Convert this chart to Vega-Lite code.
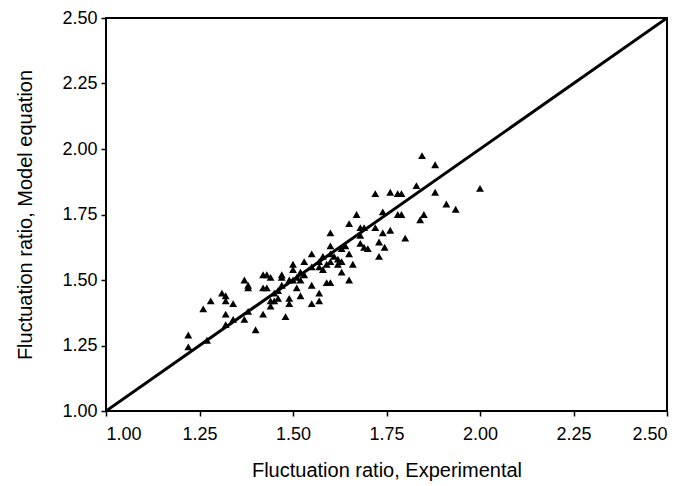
{
  "$schema": "https://vega.github.io/schema/vega-lite/v6.json",
  "autosize": "none",
  "width": 561,
  "height": 393,
  "padding": {"left": 106, "top": 18, "right": 13, "bottom": 75},
  "background": "white",
  "config": {
    "view": {"stroke": "black", "strokeWidth": 2},
    "font": "Liberation Sans",
    "axis": {
      "grid": false,
      "domain": false,
      "tickColor": "black",
      "tickSize": 5,
      "tickWidth": 1.5,
      "labelFont": "Liberation Sans",
      "labelFontSize": 18,
      "labelColor": "black",
      "titleFont": "Liberation Sans",
      "titleFontSize": 20,
      "titleFontWeight": "normal",
      "titleColor": "black"
    }
  },
  "datasets": {
    "points": [
      {"x": 1.22, "y": 1.29}, {"x": 1.22, "y": 1.245}, {"x": 1.26, "y": 1.39}, {"x": 1.28, "y": 1.42},
      {"x": 1.27, "y": 1.27}, {"x": 1.31, "y": 1.45}, {"x": 1.32, "y": 1.44}, {"x": 1.32, "y": 1.42},
      {"x": 1.32, "y": 1.37}, {"x": 1.32, "y": 1.33}, {"x": 1.34, "y": 1.41}, {"x": 1.34, "y": 1.35},
      {"x": 1.37, "y": 1.50}, {"x": 1.38, "y": 1.48}, {"x": 1.38, "y": 1.47}, {"x": 1.37, "y": 1.35},
      {"x": 1.38, "y": 1.38}, {"x": 1.40, "y": 1.31}, {"x": 1.42, "y": 1.52}, {"x": 1.42, "y": 1.47},
      {"x": 1.42, "y": 1.37}, {"x": 1.43, "y": 1.52}, {"x": 1.44, "y": 1.40}, {"x": 1.44, "y": 1.51},
      {"x": 1.45, "y": 1.45}, {"x": 1.45, "y": 1.42}, {"x": 1.46, "y": 1.43}, {"x": 1.47, "y": 1.52},
      {"x": 1.47, "y": 1.51}, {"x": 1.48, "y": 1.36}, {"x": 1.49, "y": 1.50}, {"x": 1.49, "y": 1.43},
      {"x": 1.49, "y": 1.41}, {"x": 1.50, "y": 1.56}, {"x": 1.50, "y": 1.54}, {"x": 1.51, "y": 1.47},
      {"x": 1.52, "y": 1.44}, {"x": 1.52, "y": 1.50}, {"x": 1.53, "y": 1.57}, {"x": 1.53, "y": 1.52},
      {"x": 1.55, "y": 1.60}, {"x": 1.55, "y": 1.48}, {"x": 1.55, "y": 1.41}, {"x": 1.57, "y": 1.45},
      {"x": 1.57, "y": 1.42}, {"x": 1.57, "y": 1.57}, {"x": 1.58, "y": 1.54}, {"x": 1.58, "y": 1.59},
      {"x": 1.59, "y": 1.49}, {"x": 1.60, "y": 1.68}, {"x": 1.60, "y": 1.63}, {"x": 1.60, "y": 1.49},
      {"x": 1.60, "y": 1.57}, {"x": 1.61, "y": 1.59}, {"x": 1.62, "y": 1.56}, {"x": 1.63, "y": 1.53},
      {"x": 1.63, "y": 1.57}, {"x": 1.64, "y": 1.63}, {"x": 1.65, "y": 1.60}, {"x": 1.65, "y": 1.50},
      {"x": 1.65, "y": 1.715}, {"x": 1.66, "y": 1.56}, {"x": 1.67, "y": 1.75}, {"x": 1.68, "y": 1.67},
      {"x": 1.68, "y": 1.70}, {"x": 1.68, "y": 1.64}, {"x": 1.69, "y": 1.70}, {"x": 1.69, "y": 1.625},
      {"x": 1.70, "y": 1.62}, {"x": 1.72, "y": 1.83}, {"x": 1.72, "y": 1.70}, {"x": 1.73, "y": 1.645},
      {"x": 1.73, "y": 1.59}, {"x": 1.74, "y": 1.68}, {"x": 1.74, "y": 1.76}, {"x": 1.745, "y": 1.625},
      {"x": 1.76, "y": 1.835}, {"x": 1.76, "y": 1.69}, {"x": 1.78, "y": 1.83}, {"x": 1.79, "y": 1.83},
      {"x": 1.78, "y": 1.75}, {"x": 1.79, "y": 1.75}, {"x": 1.80, "y": 1.66}, {"x": 1.83, "y": 1.86},
      {"x": 1.84, "y": 1.73}, {"x": 1.85, "y": 1.75}, {"x": 1.845, "y": 1.975}, {"x": 1.88, "y": 1.94},
      {"x": 1.88, "y": 1.835}, {"x": 1.91, "y": 1.79}, {"x": 1.935, "y": 1.77}, {"x": 2.00, "y": 1.85},
      {"x": 1.44, "y": 1.42}, {"x": 1.46, "y": 1.46}, {"x": 1.47, "y": 1.48}, {"x": 1.50, "y": 1.50},
      {"x": 1.51, "y": 1.51}, {"x": 1.55, "y": 1.55}, {"x": 1.57, "y": 1.55}, {"x": 1.59, "y": 1.56},
      {"x": 1.60, "y": 1.60}, {"x": 1.62, "y": 1.58}, {"x": 1.63, "y": 1.62}, {"x": 1.52, "y": 1.53},
      {"x": 1.43, "y": 1.47}
    ],
    "line": [{"x": 1.0, "y": 1.0}, {"x": 2.5, "y": 2.5}]
  },
  "layer": [
    {
      "data": {"name": "line"},
      "mark": {"type": "line", "color": "black", "strokeWidth": 3, "clip": true},
      "encoding": {
        "x": {"field": "x", "type": "quantitative", "scale": {"domain": [1, 2.5], "nice": false, "zero": false},
              "axis": {"title": "Fluctuation ratio, Experimental", "values": [1, 1.25, 1.5, 1.75, 2, 2.25, 2.5], "format": ".2f", "labelPadding": 9, "titlePadding": 17}},
        "y": {"field": "y", "type": "quantitative", "scale": {"domain": [1, 2.5], "nice": false, "zero": false},
              "axis": {"title": "Fluctuation ratio, Model equation", "values": [1, 1.25, 1.5, 1.75, 2, 2.25, 2.5], "format": ".2f", "labelPadding": 4, "titlePadding": 26}}
      }
    },
    {
      "data": {"name": "points"},
      "mark": {"type": "point", "shape": "triangle-up", "filled": true, "color": "black", "size": 62, "opacity": 1},
      "encoding": {
        "x": {"field": "x", "type": "quantitative"},
        "y": {"field": "y", "type": "quantitative"}
      }
    }
  ]
}
